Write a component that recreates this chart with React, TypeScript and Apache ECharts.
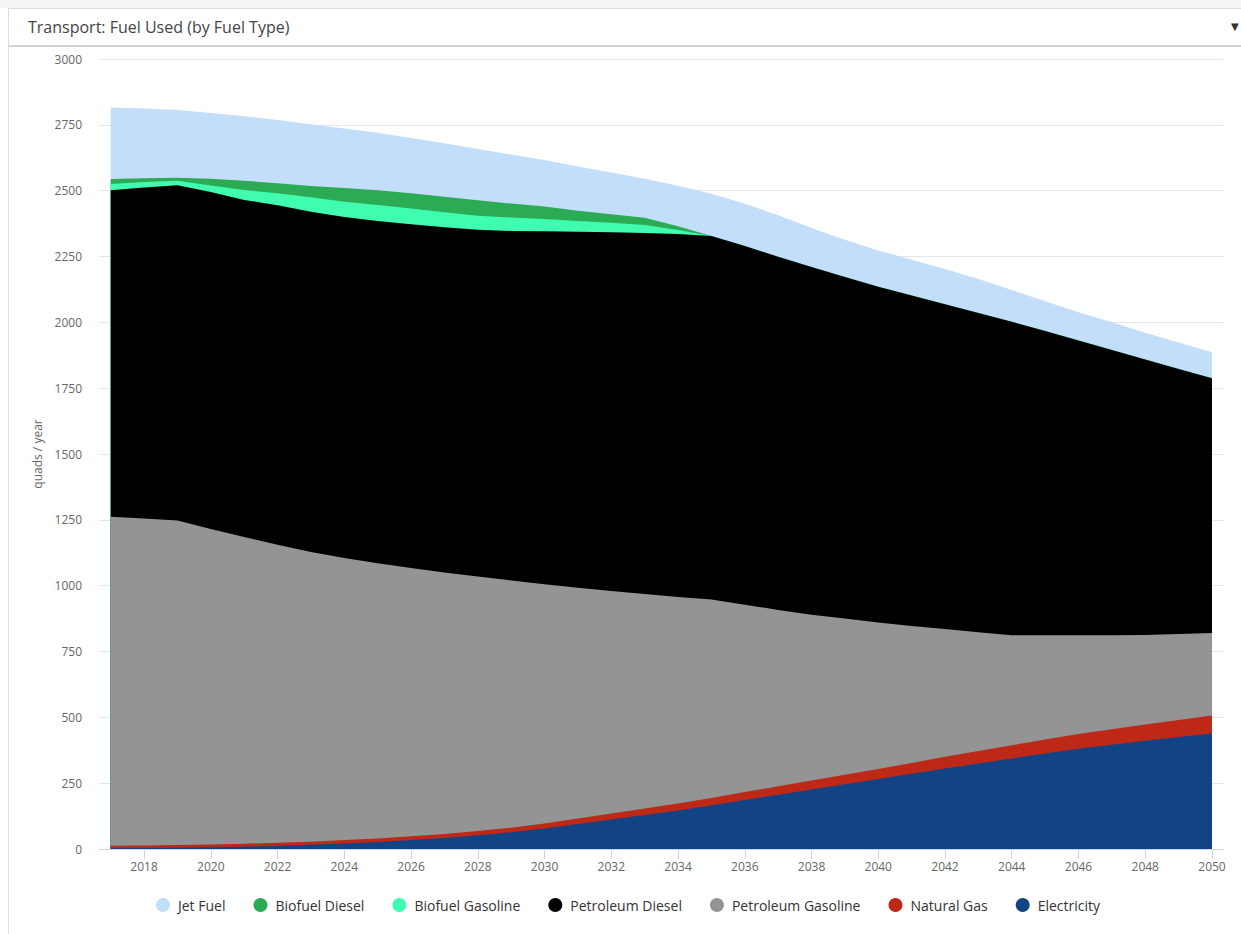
import React, { useEffect, useRef } from "react";
import * as echarts from "echarts";

// Years on the x axis (one point per year)
const years = [
  2017, 2018, 2019, 2020, 2021, 2022, 2023, 2024, 2025, 2026, 2027, 2028,
  2029, 2030, 2031, 2032, 2033, 2034, 2035, 2036, 2037, 2038, 2039, 2040,
  2041, 2042, 2043, 2044, 2045, 2046, 2047, 2048, 2049, 2050,
];

// Labelled ticks along the x axis
const xTickYears = [
  2018, 2020, 2022, 2024, 2026, 2028, 2030, 2032, 2034, 2036, 2038, 2040,
  2042, 2044, 2046, 2048, 2050,
];

// Fuel use by type, quads / year
const electricity = [
  3, 4, 5, 7, 9, 12, 16, 21, 27, 34, 42, 52, 64, 78, 95, 112, 129, 146, 166,
  186, 206, 226, 246, 266, 286, 306, 325, 344, 363, 381, 396, 411, 425, 439,
];
const naturalGas = [
  9, 9, 10, 10, 11, 12, 12, 13, 13, 14, 15, 16, 17, 19, 21, 23, 25, 27, 28, 30,
  32, 34, 36, 38, 41, 44, 47, 50, 53, 56, 59, 62, 65, 68,
];
const petroleumGasoline = [
  1250, 1242, 1232, 1198, 1165, 1131, 1100, 1071, 1045, 1019, 993, 967, 939,
  908, 876, 845, 814, 784, 753, 712, 670, 630, 593, 556, 520, 485, 451, 418,
  396, 375, 357, 340, 326, 313,
];
const petroleumDiesel = [
  1240, 1257, 1274, 1280, 1280, 1290, 1292, 1295, 1300, 1305, 1311, 1317,
  1327, 1341, 1352, 1362, 1371, 1378, 1381, 1362, 1341, 1320, 1297, 1275,
  1255, 1234, 1212, 1190, 1155, 1119, 1083, 1046, 1007, 968,
];
const biofuelGasoline = [
  23, 21, 17, 25, 38, 45, 55, 58, 61, 60, 57, 53, 51, 46, 41, 36, 31, 16, 0, 0,
  0, 0, 0, 0, 0, 0, 0, 0, 0, 0, 0, 0, 0, 0,
];
const biofuelDiesel = [
  19, 14, 11, 25, 35, 38, 43, 52, 56, 58, 59, 59, 53, 48, 39, 32, 27, 14, 0, 0,
  0, 0, 0, 0, 0, 0, 0, 0, 0, 0, 0, 0, 0, 0,
];
const jetFuel = [
  272, 265, 257, 250, 245, 240, 234, 226, 218, 210, 203, 194, 186, 176, 168,
  159, 148, 154, 160, 160, 158, 148, 142, 138, 136, 134, 130, 121, 113, 107,
  105, 101, 100, 98,
];

// Stacking order, bottom to top
const stackSeries = [
  { name: "Electricity", values: electricity, color: "#124485" },
  { name: "Natural Gas", values: naturalGas, color: "#bd2817" },
  { name: "Petroleum Gasoline", values: petroleumGasoline, color: "#949494" },
  { name: "Petroleum Diesel", values: petroleumDiesel, color: "#000000" },
  { name: "Biofuel Gasoline", values: biofuelGasoline, color: "#40fcb0" },
  { name: "Biofuel Diesel", values: biofuelDiesel, color: "#2cab55" },
  { name: "Jet Fuel", values: jetFuel, color: "#c3defa" },
];

const legendOrder = [
  "Jet Fuel",
  "Biofuel Diesel",
  "Biofuel Gasoline",
  "Petroleum Diesel",
  "Petroleum Gasoline",
  "Natural Gas",
  "Electricity",
];

const FONT = "'Open Sans', 'Noto Sans', sans-serif";

// Running totals per layer: each area is filled from zero up to its cumulative top,
// and lower layers are painted over higher ones.
function buildLayers() {
  const running = years.map(() => 0);
  const layers = stackSeries.map((s) => {
    const tops = s.values.map((v, i) => {
      running[i] += v;
      return running[i];
    });
    return { ...s, tops };
  });
  return layers.reverse();
}

export default function App() {
  const chartRef = useRef<HTMLDivElement>(null);

  useEffect(() => {
    if (!chartRef.current) return;
    const chart = echarts.init(chartRef.current, undefined, { renderer: "svg" });
    const layers = buildLayers();

    chart.setOption({
      animation: false,
      textStyle: { fontFamily: FONT },
      grid: { left: 99, right: 18, top: 59, bottom: 85, containLabel: false },
      legend: {
        data: legendOrder,
        left: 156,
        top: 898,
        padding: 0,
        icon: "circle",
        itemWidth: 14,
        itemHeight: 14,
        itemGap: 28,
        textStyle: {
          color: "#333333",
          fontSize: 14,
          fontFamily: FONT,
          padding: [0, 0, 0, 3],
        },
      },
      xAxis: {
        type: "value",
        min: 2016.65,
        max: 2050.33,
        axisLine: { show: true, lineStyle: { color: "#ccd6eb", width: 1 } },
        axisTick: {
          show: true,
          length: 10,
          customValues: xTickYears,
          lineStyle: { color: "#ccd6eb" },
        },
        axisLabel: {
          customValues: xTickYears,
          color: "#666666",
          fontSize: 12,
          fontFamily: FONT,
          margin: 11,
          formatter: (v: number) => String(v),
        },
        splitLine: { show: false },
      },
      yAxis: {
        type: "value",
        min: 0,
        max: 3000,
        interval: 250,
        name: "quads / year",
        nameLocation: "middle",
        nameGap: 56,
        nameRotate: 90,
        nameTextStyle: { color: "#666666", fontSize: 12, fontFamily: FONT },
        axisLine: { show: false },
        axisTick: { show: false },
        axisLabel: {
          color: "#666666",
          fontSize: 12,
          fontFamily: FONT,
          margin: 17,
          formatter: (v: number) => String(v),
        },
        splitLine: { show: true, lineStyle: { color: "#e6e6e6", width: 1 } },
      },
      series: layers.map((s) => ({
        name: s.name,
        type: "line",
        data: years.map((y, i) => [y, s.tops[i]]),
        showSymbol: false,
        symbol: "none",
        lineStyle: { width: 0, color: s.color },
        itemStyle: { color: s.color },
        areaStyle: { color: s.color, opacity: 1, origin: "start" },
        emphasis: { disabled: true },
      })),
    });

    return () => chart.dispose();
  }, []);

  return (
    <div
      style={{
        position: "fixed",
        left: 0,
        top: 0,
        width: 1241,
        height: 934,
        background: "#ffffff",
        overflow: "hidden",
      }}
    >
      <div
        style={{
          position: "absolute",
          left: 0,
          top: 0,
          width: 1241,
          height: 8,
          background: "#f5f5f5",
        }}
      />
      <div
        style={{
          position: "absolute",
          left: 8,
          top: 8,
          width: 1260,
          height: 926,
          borderLeft: "1px solid #dddddd",
          borderTop: "1px solid #dddddd",
          boxSizing: "border-box",
        }}
      />
      <div
        ref={chartRef}
        style={{ position: "absolute", left: 0, top: 0, width: 1241, height: 934 }}
      />
      <div
        style={{
          position: "absolute",
          left: 8,
          top: 8,
          width: 1260,
          height: 39,
          boxSizing: "border-box",
          borderTop: "1px solid #dddddd",
          borderLeft: "1px solid #dddddd",
          borderBottom: "2px solid #d2d2d2",
          background: "#ffffff",
          paddingLeft: 19,
          lineHeight: "37px",
          fontFamily: FONT,
          fontSize: 16,
          color: "#444444",
        }}
      >
        Transport: Fuel Used (by Fuel Type)
      </div>
      <div
        style={{
          position: "absolute",
          left: 1231,
          top: 19,
          fontSize: 10,
          lineHeight: "16px",
          color: "#333333",
          fontFamily: "'DejaVu Sans', sans-serif",
        }}
      >
        ▼
      </div>
    </div>
  );
}
